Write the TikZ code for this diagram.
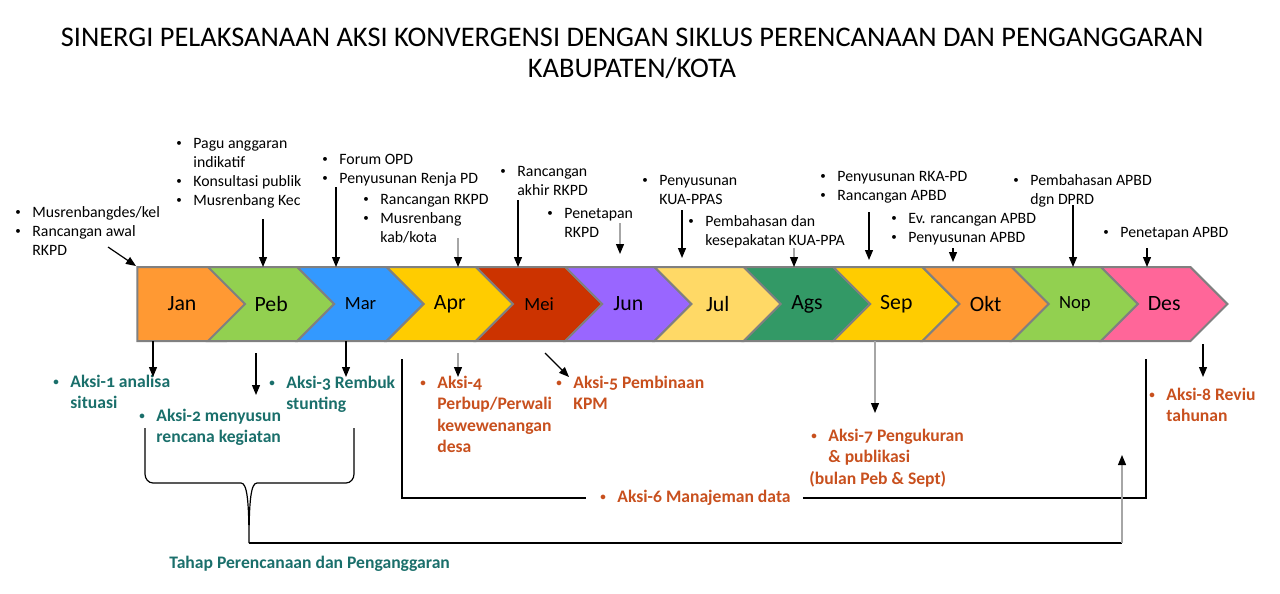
\documentclass[tikz,border=0pt]{standalone}
\usepackage{fontspec}
\setmainfont{Carlito}
\newfontfamily\aksifont{Carlito}[Numbers=OldStyle]
\usetikzlibrary{shapes.symbols, arrows.meta, positioning, calc}

\definecolor{cjan}{HTML}{FF9933}
\definecolor{cpeb}{HTML}{92D050}
\definecolor{cmar}{HTML}{3399FF}
\definecolor{capr}{HTML}{FFCC00}
\definecolor{cmei}{HTML}{CC3300}
\definecolor{cjun}{HTML}{9966FF}
\definecolor{cjul}{HTML}{FFD966}
\definecolor{cags}{HTML}{339966}
\definecolor{cdes}{HTML}{FF6699}
\definecolor{barline}{HTML}{808080}
\definecolor{tealtxt}{HTML}{1A6F6B}
\definecolor{rusttxt}{HTML}{C8501E}

\newcommand{\bul}{\makebox[9.5pt][l]{\hspace*{1pt}\raisebox{0.9pt}{\fontsize{5.5}{5.5}\selectfont\textbullet}}}
\newcommand{\ind}{\hspace*{9.5pt}}

\begin{document}
\begin{tikzpicture}[x=0.5pt, y=-0.5pt,
    >={Triangle[length=5pt, width=4pt]},
    month/.style={signal, signal to=east, signal from=west, signal pointer angle=90, draw=barline, line width=1pt, minimum height=37pt, minimum width=63.2pt, inner sep=0pt, outer sep=0pt, font=\fontsize{10.9}{12}\selectfont},
    smallmonth/.style={month, font=\fontsize{9.3}{11}\selectfont},
    note/.style={anchor=north west, align=left, inner sep=0pt, font=\fontsize{7.9}{9.5}\selectfont},
    aksiA/.style={note, text=tealtxt, font=\aksifont\bfseries\fontsize{8.8}{10.6}\selectfont},
    aksiB/.style={aksiA, text=rusttxt},
    arr/.style={->, line width=0.6pt},
    garr/.style={-{Triangle[length=5pt, width=4pt, color=black]}, draw=gray!70, line width=0.6pt},
    link/.style={line width=0.6pt}]

    \useasboundingbox (0,0) rectangle (1280,594);

    % Title
    \node (title) [anchor=north, align=center, inner sep=0pt, font=\fontsize{14.2}{15.5}\selectfont] at (632,28) {SINERGI PELAKSANAAN AKSI KONVERGENSI DENGAN SIKLUS PERENCANAAN DAN PENGANGGARAN\\KABUPATEN/KOTA};

    % Months
    \node (jan) [month, signal from=nowhere, fill=cjan] at (182,304) {Jan};
    \node (peb) [month, fill=cpeb] at (271.2,304) {Peb};
    \node (mar) [smallmonth, fill=cmar] at (360.5,304) {Mar};
    \node (apr) [month, fill=capr] at (449.8,304) {Apr};
    \node (mei) [smallmonth, fill=cmei] at (539.1,304) {Mei};
    \node (jun) [month, fill=cjun] at (628.4,304) {Jun};
    \node (jul) [month, fill=cjul] at (717.7,304) {Jul};
    \node (ags) [month, fill=cags] at (807.0,304) {Ags};
    \node (sep) [month, fill=capr] at (896.3,304) {Sep};
    \node (okt) [month, fill=cjan] at (985.6,304) {Okt};
    \node (nop) [smallmonth, fill=cpeb] at (1074.9,304) {Nop};
    \node (des) [month, fill=cdes] at (1164.2,304) {Des};

    % Planning steps above the bar
    \node (p_jan) [note] at (13,206) {\bul Musrenbangdes/kel\\\bul Rancangan awal\\\ind RKPD};
    \node (p_peb) [note] at (174,138) {\bul Pagu anggaran\\\ind indikatif\\\bul Konsultasi publik\\\bul Musrenbang Kec};
    \node (p_mar) [note] at (320,154) {\bul Forum OPD\\\bul Penyusunan Renja PD};
    \node (p_apr) [note] at (361,194) {\bul Rancangan RKPD\\\bul Musrenbang\\\ind kab/kota};
    \node (p_mei) [note] at (498,166) {\bul Rancangan\\\ind akhir RKPD};
    \node (p_jun) [note] at (545,208) {\bul Penetapan\\\ind RKPD};
    \node (p_jul) [note] at (640,175) {\bul Penyusunan\\\ind KUA-PPAS};
    \node (p_ags) [note] at (686,215) {\bul Pembahasan dan\\\ind kesepakatan KUA-PPA};
    \node (p_sep) [note] at (818,171) {\bul Penyusunan RKA-PD\\\bul Rancangan APBD};
    \node (p_okt) [note] at (889,213) {\bul Ev. rancangan APBD\\\bul Penyusunan APBD};
    \node (p_nop) [note] at (1011,174) {\bul Pembahasan APBD\\\ind dgn DPRD};
    \node (p_des) [note] at (1101,227) {\bul Penetapan APBD};

    % Convergence actions below the bar
    \node (a1) [aksiA] at (51,375) {\bul Aksi-1 analisa\\\ind situasi};
    \node (a2) [aksiA] at (137,409) {\bul Aksi-2 menyusun\\\ind rencana kegiatan};
    \node (a3) [aksiA] at (267,376) {\bul Aksi-3 Rembuk\\\ind stunting};
    \node (a4) [aksiB] at (418,376) {\bul Aksi-4\\\ind Perbup/Perwali\\\ind kewewenangan\\\ind desa};
    \node (a5) [aksiB] at (554,376) {\bul Aksi-5 Pembinaan\\\ind KPM};
    \node (a6) [aksiB, anchor=west, inner xsep=6pt] at (586,498) {\bul Aksi-6 Manajeman data};
    \node (a7) [aksiB] at (809,429) {\bul Aksi-7 Pengukuran\\\ind\& publikasi\\(bulan Peb \& Sept)};
    \node (a8) [aksiB] at (1147,388) {\bul Aksi-8 Reviu\\\ind tahunan};
    \node (tahap) [aksiA] at (169,556) {Tahap Perencanaan dan Penganggaran};

    % Coordinates for arrow starts
    \coordinate (s_jan) at (108,247);
    \coordinate (e_jan) at (136,266);
    \coordinate (s_peb) at (263,219);
    \coordinate (s_mar) at (336,187);
    \coordinate (s_apr) at (458,238);
    \coordinate (s_mei) at (518,200);
    \coordinate (s_jun) at (620,223);
    \coordinate (s_jul) at (682,210);
    \coordinate (s_ags) at (794,248);
    \coordinate (s_sep) at (869,212);
    \coordinate (s_okt) at (953,248);
    \coordinate (s_nop) at (1073,205);
    \coordinate (s_des) at (1147,248);

    % Connections above
    \draw[arr] (s_jan) -- (e_jan);
    \draw[arr] (s_peb) -- (s_peb |- peb.north);
    \draw[arr] (s_mar) -- (s_mar |- mar.north);
    \draw[garr] (s_apr) -- (s_apr |- apr.north);
    \draw[arr] (s_mei) -- (s_mei |- mei.north);
    \draw[garr] (s_jun) -- ($(s_jun |- jun.north)+(0,-13)$);
    \draw[arr] (s_jul) -- ($(s_jul |- jul.north)+(0,-9)$);
    \draw[garr] (s_ags) -- (s_ags |- ags.north);
    \draw[arr] (s_sep) -- ($(s_sep |- sep.north)+(0,-7)$);
    \draw[arr] (s_okt) -- ($(s_okt |- okt.north)+(0,-5)$);
    \draw[arr] (s_nop) -- (s_nop |- nop.north);
    \draw[arr] (s_des) -- (s_des |- des.north);

    % Coordinates for arrows below
    \coordinate (e_a1) at (153,377);
    \coordinate (s_a2) at (256,353);
    \coordinate (e_a2) at (256,395);
    \coordinate (e_a3) at (346,377);
    \coordinate (s_a4) at (458,353);
    \coordinate (e_a4) at (458,377);
    \coordinate (s_a5) at (545,353);
    \coordinate (e_a5) at (569,377);
    \coordinate (e_a7) at (875,413);
    \coordinate (s_a8) at (1203,344);
    \coordinate (e_a8) at (1203,377);

    % Connections below
    \draw[arr] (e_a1 |- jan.south) -- (e_a1);
    \draw[arr] (s_a2) -- (e_a2);
    \draw[arr] (e_a3 |- mar.south) -- (e_a3);
    \draw[garr] (s_a4) -- (e_a4);
    \draw[arr] (s_a5) -- (e_a5);
    \draw[garr] (e_a7 |- sep.south) -- (e_a7);
    \draw[arr] (s_a8) -- (e_a8);

    % Aksi-6 span
    \coordinate (a6_l) at (402,359);
    \coordinate (a6_r) at (1146,359);
    \draw[link] (a6_l) |- (a6.west);
    \draw[link] (a6.east) -| (a6_r);

    % Brace and feedback
    \coordinate (brace_tip) at (249,543);
    \coordinate (fb_corner) at (1122,543);
    \coordinate (fb_end) at (1122,455);
    \draw[link] (145,428) -- (145,474) to[out=-90, in=180] (153,483) -- (241,483) .. controls (247,483) and (249,500) .. (brace_tip) .. controls (249,500) and (251,483) .. (257,483) -- (346,483) to[out=0, in=-90] (354,474) -- (354,428);
    \draw[link] (brace_tip) -- (fb_corner);
    \draw[garr] (fb_corner) -- (fb_end);

\end{tikzpicture}
\end{document}
